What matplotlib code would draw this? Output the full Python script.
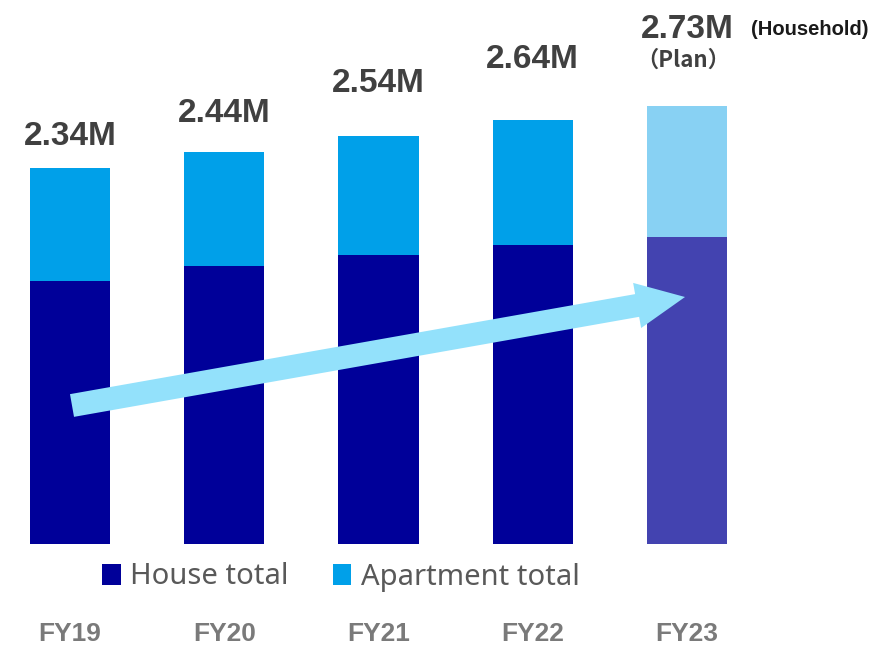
import matplotlib
matplotlib.use("Agg")
import matplotlib.pyplot as plt
from matplotlib.patches import FancyArrowPatch, ArrowStyle

# Households by fiscal year (millions); FY23 is the plan
years = ["FY19", "FY20", "FY21", "FY22", "FY23"]
house = [1.64, 1.73, 1.80, 1.86, 1.91]
apartment = [0.70, 0.71, 0.74, 0.78, 0.82]

house_colors = ["#000099", "#000099", "#000099", "#000099", "#4343B0"]
apt_colors = ["#00A0E9", "#00A0E9", "#00A0E9", "#00A0E9", "#88D1F3"]

# how far each total label sits above its bar, in points
label_lift = [17, 22, 32, 38, 49]

W, H = 871, 647
fig = plt.figure(figsize=(W / 100, H / 100), dpi=100)
ax = fig.add_axes([0, 103 / H, 1, 544 / H])

x = list(range(len(years)))
bw = 0.519
bars_h = ax.bar(x, house, width=bw, color=house_colors, label="House total", zorder=2)
bars_a = ax.bar(x, apartment, width=bw, bottom=house, color=apt_colors,
                label="Apartment total", zorder=2)

ax.set_xlim(-70 / 154.25, (W - 70) / 154.25)
ax.set_ylim(0, 544 / 160.5)

for s in ax.spines.values():
    s.set_visible(False)
ax.set_yticks([])
ax.set_xticks(x)
ax.set_xticklabels(years, fontfamily="Liberation Sans", fontweight="bold",
                   fontsize=19, color="#7A7A7A")
ax.tick_params(axis="x", length=0, pad=56)

# total value above each bar
for i, (h, a) in enumerate(zip(house, apartment)):
    total = h + a
    ax.annotate(f"{total:.2f}M", (i, total), xytext=(0, label_lift[i]),
                textcoords="offset points", ha="center", va="baseline",
                fontfamily="Liberation Sans", fontweight="bold", fontsize=24,
                color="#404040")

fig.text(868 / W, 1 - 35 / H, "(Household)", ha="right", va="baseline",
         fontfamily="Liberation Sans", fontweight="bold",
         fontsize=14.5, color="#1A1A1A")
fig.text(683 / W, 1 - 67 / H, "（Plan）", ha="center", va="baseline",
         fontfamily=["Noto Sans CJK JP", "DejaVu Sans"], fontweight="bold",
         fontsize=16, color="#404040")

# growth arrow across the bars
arrow = FancyArrowPatch((72 / W, 1 - 405.5 / H), (685 / W, 1 - 297 / H),
                        transform=fig.transFigure,
                        arrowstyle=ArrowStyle("Simple", head_length=35,
                                              head_width=33, tail_width=16.6),
                        mutation_scale=1, shrinkA=0, shrinkB=0,
                        color="#93E1FB", lw=0, zorder=5, clip_on=False)
ax.add_patch(arrow)

leg = fig.legend(handles=[bars_h[0], bars_a[0]],
                 labels=["House total", "Apartment total"],
                 loc="center", bbox_to_anchor=(341 / W, 1 - 577 / H),
                 ncol=2, frameon=False, handlelength=0.62, handleheight=0.75,
                 handletextpad=0.34, columnspacing=1.5, borderpad=0,
                 prop={"family": "Noto Sans", "size": 21})
for t in leg.get_texts():
    t.set_color("#595959")

fig.savefig("out.png", dpi=100)
